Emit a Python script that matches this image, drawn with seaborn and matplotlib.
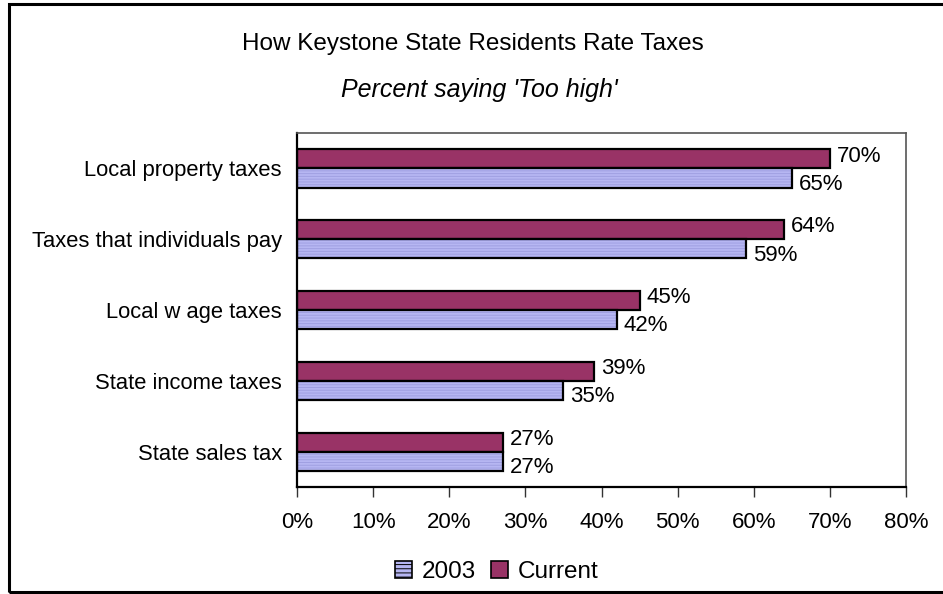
import matplotlib
matplotlib.use("Agg")
import matplotlib.pyplot as plt
from matplotlib.patches import Rectangle, Patch
from matplotlib.ticker import FuncFormatter
import pandas as pd
import seaborn as sns

# Survey results: share of residents saying each tax is "Too high"
categories = [
    "Local property taxes",
    "Taxes that individuals pay",
    "Local w age taxes",
    "State income taxes",
    "State sales tax",
]
current = [70, 64, 45, 39, 27]
year_2003 = [65, 59, 42, 35, 27]
series_names = ["Current", "2003"]
x_ticks = [0, 10, 20, 30, 40, 50, 60, 70, 80]

title = "How Keystone State Residents Rate Taxes"
subtitle = "Percent saying 'Too high'"

PLUM = "#993366"
LAVENDER = "#b6b6f2"
STRIPE = "#a0a0e2"

df = pd.DataFrame({
    "category": categories * 2,
    "series": ["Current"] * len(categories) + ["2003"] * len(categories),
    "value": current + year_2003,
})

sns.set_theme(style="white")
plt.rcParams["font.family"] = ["Liberation Sans", "DejaVu Sans"]
plt.rcParams["text.color"] = "black"
plt.rcParams["xtick.labelcolor"] = "black"
plt.rcParams["ytick.labelcolor"] = "black"
plt.rcParams["hatch.linewidth"] = 0.7

fig = plt.figure(figsize=(9.43, 5.94), dpi=100)
ax = fig.add_axes([0.315, 0.180, 0.6458, 0.596])

sns.barplot(
    data=df, y="category", x="value", hue="series",
    hue_order=series_names, order=categories, orient="h",
    palette={"Current": PLUM, "2003": LAVENDER},
    width=0.54, dodge=True, edgecolor="black", linewidth=1.6,
    saturation=1, legend=False, ax=ax,
)

# Horizontal stripes on the 2003 bars, outlined in black afterwards
for cont, name in zip(ax.containers, series_names):
    if name != "2003":
        continue
    for p in cont.patches:
        p.set_hatch("------")
        p.set_edgecolor(STRIPE)
        p.set_linewidth(0)
        ax.add_patch(Rectangle(p.get_xy(), p.get_width(), p.get_height(),
                               fill=False, edgecolor="black", linewidth=1.6,
                               zorder=p.get_zorder() + 0.1))

# Value labels to the right of each bar, nudged apart vertically
label_shift = {"Current": -0.04, "2003": 0.09}
for cont, name, vals in zip(ax.containers, series_names, [current, year_2003]):
    for p, v in zip(cont.patches, vals):
        ax.text(v + 0.9, p.get_y() + p.get_height() / 2 + label_shift[name],
                f"{v}%", ha="left", va="center", fontsize=16, color="black")

ax.set_xlim(0, 80)
ax.set_ylim(len(categories) - 0.5, -0.5)
ax.set_xticks(x_ticks)
ax.xaxis.set_major_formatter(FuncFormatter(lambda v, _: f"{v:.0f}%"))
ax.set_xlabel("")
ax.set_ylabel("")

# Category labels between boundary tick marks
ax.set_yticks(range(len(categories)))
ax.set_yticklabels(categories, fontsize=15.8)
ax.tick_params(axis="y", which="major", length=0, pad=11)
ax.set_yticks([i - 0.5 for i in range(len(categories) + 1)], minor=True)
ax.tick_params(axis="y", which="minor", length=7, width=1, color="#333333",
               direction="out")
ax.tick_params(axis="x", which="major", length=7, width=1, color="#333333",
               direction="out", labelsize=16, pad=11, bottom=True)

for side in ["left", "bottom"]:
    ax.spines[side].set_color("black")
    ax.spines[side].set_linewidth(1.6)
for side in ["top", "right"]:
    ax.spines[side].set_color("#555555")
    ax.spines[side].set_linewidth(1.2)
    ax.spines[side].set_visible(True)

# Titles centred on the chart area
fig.text(0.501, 0.9158, title, ha="center", va="baseline", fontsize=17.5)
fig.text(0.508, 0.8367, subtitle, ha="center", va="baseline", fontsize=18,
         style="italic")

# Legend below the plot
handles = [
    Patch(facecolor=LAVENDER, edgecolor="black", hatch="----", linewidth=1.2),
    Patch(facecolor=PLUM, edgecolor="black", linewidth=1.2),
]
fig.legend(handles, ["2003", "Current"], loc="center", ncol=2,
           bbox_to_anchor=(0.527, 0.037), frameon=False, fontsize=17.5,
           handlelength=0.7, handleheight=0.7, handletextpad=0.4,
           columnspacing=0.6)

# Outer chart frame
fig.add_artist(Rectangle((9 / 943, 2 / 594), 1.2, 588 / 594,
                         transform=fig.transFigure, fill=False,
                         edgecolor="black", linewidth=2.2))

fig.savefig("out.png", dpi=100, facecolor="white")
